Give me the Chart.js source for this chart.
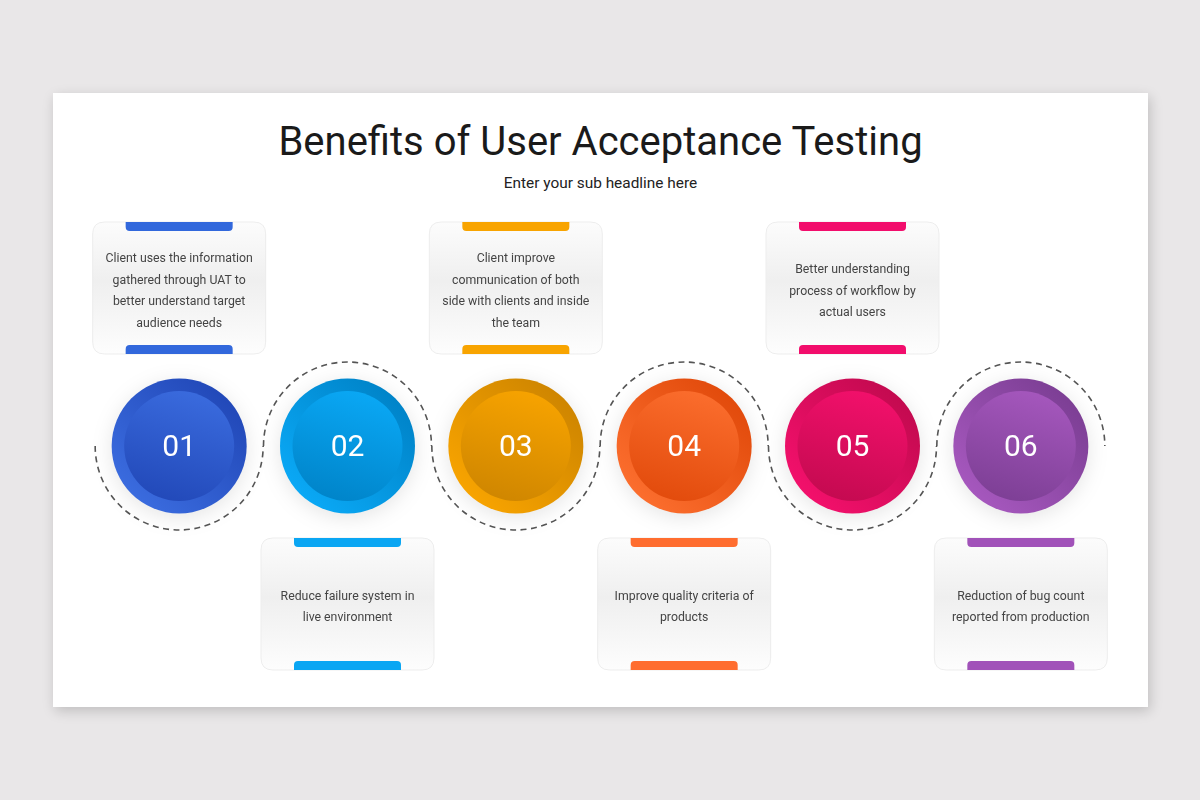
<!DOCTYPE html>
<html>
<head>
<meta charset="utf-8">
<title>Benefits of User Acceptance Testing</title>
<script src="https://cdn.jsdelivr.net/npm/chart.js@4.4.1/dist/chart.umd.min.js"></script>
<style>
  html, body { margin: 0; padding: 0; }
  body { width: 1200px; height: 800px; background: #e9e7e8; position: relative; overflow: hidden; font-family: Roboto, "Noto Sans", sans-serif; }
  .card { position: absolute; left: 53px; top: 93px; width: 1095px; height: 614px; background: #fff;
          box-shadow: 2px 4px 12px rgba(0,0,0,0.18); }
  .card h1 { position: absolute; left: 0; right: 0; top: 25px; margin: 0; text-align: center;
             font-weight: 400; font-size: 40px; line-height: 48px; color: #1a1a1a; }
  .card p { position: absolute; left: 0; right: 0; top: 80px; margin: 0; text-align: center;
            font-size: 15.4px; line-height: 20px; color: #222; }
  .chart-wrap { position: absolute; left: 0; top: 0; width: 1095px; height: 614px; }
</style>
</head>
<body>
<div class="card">
  <h1>Benefits of User Acceptance Testing</h1>
  <p>Enter your sub headline here</p>
  <div class="chart-wrap"><canvas id="steps"></canvas></div>
</div>
<script>
// step data
const stepLabels = ['01', '02', '03', '04', '05', '06'];
const stepPositions = [1, 2, 3, 4, 5, 6];
const boxSide = [1, -1, 1, -1, 1, -1]; // 1 = box above, -1 = box below
const descriptions = [
    ['Client uses the information', 'gathered through UAT to', 'better understand target', 'audience needs'],
    ['Reduce failure system in', 'live environment'],
    ['Client improve', 'communication of both', 'side with clients and inside', 'the team'],
    ['Improve quality criteria of', 'products'],
    ['Better understanding', 'process of workflow by', 'actual users'],
    ['Reduction of bug count', 'reported from production']
];
const lightColors = ['#3a6bde', '#0aa8f5', '#f7a300', '#fb6d2d', '#f2106b', '#a557bd'];
const darkColors = ['#2249b9', '#0084c9', '#cf8600', '#e24b0c', '#c40a50', '#7d3f95'];
const tabColors = ['#3268dc', '#0aa6f3', '#f8a400', '#ff6d2f', '#f20d6c', '#a152b9'];

function roundRect(ctx, x, y, w, h, r) {
    ctx.beginPath();
    ctx.moveTo(x + r[0], y);
    ctx.lineTo(x + w - r[1], y);
    ctx.quadraticCurveTo(x + w, y, x + w, y + r[1]);
    ctx.lineTo(x + w, y + h - r[2]);
    ctx.quadraticCurveTo(x + w, y + h, x + w - r[2], y + h);
    ctx.lineTo(x + r[3], y + h);
    ctx.quadraticCurveTo(x, y + h, x, y + h - r[3]);
    ctx.lineTo(x, y + r[0]);
    ctx.quadraticCurveTo(x, y, x + r[0], y);
    ctx.closePath();
}

const stepsPlugin = {
    id: 'steps',
    afterDatasetsDraw(chart) {
        const ctx = chart.ctx;
        const circles = chart.getDatasetMeta(0).data;
        const boxes = chart.getDatasetMeta(1).data;

        // text boxes
        boxes.forEach((pt, i) => {
            const w = 173, h = 132;
            const x = pt.x - w / 2, y = pt.y - h / 2;
            ctx.save();
            const g = ctx.createLinearGradient(0, y, 0, y + h);
            g.addColorStop(0, '#fcfcfc');
            g.addColorStop(0.45, '#efefef');
            g.addColorStop(1, '#fdfdfd');
            roundRect(ctx, x, y, w, h, [12, 12, 12, 12]);
            ctx.fillStyle = g;
            ctx.fill();
            ctx.strokeStyle = '#ededed';
            ctx.lineWidth = 1;
            ctx.stroke();

            ctx.fillStyle = tabColors[i];
            roundRect(ctx, pt.x - 53.5, y, 107, 9, [0, 0, 4, 4]);
            ctx.fill();
            roundRect(ctx, pt.x - 53.5, y + h - 9, 107, 9, [4, 4, 0, 0]);
            ctx.fill();

            const lines = descriptions[i];
            const lh = 21.6;
            ctx.fillStyle = '#444';
            ctx.font = '12.3px Roboto';
            ctx.textAlign = 'center';
            ctx.textBaseline = 'middle';
            const start = pt.y + 3.5 - (lines.length - 1) * lh / 2;
            lines.forEach((line, k) => ctx.fillText(line, pt.x, start + k * lh));
            ctx.restore();
        });

        // dashed half rings
        circles.forEach((pt, i) => {
            ctx.save();
            ctx.strokeStyle = '#555';
            ctx.lineWidth = 1.6;
            ctx.setLineDash([6, 4.5]);
            ctx.beginPath();
            if (boxSide[i] > 0) ctx.arc(pt.x, pt.y, 84, Math.PI, 0, true);
            else ctx.arc(pt.x, pt.y, 84, Math.PI, 2 * Math.PI, false);
            ctx.stroke();
            ctx.restore();
        });

        // numbered circles
        circles.forEach((pt, i) => {
            const R = 67.5, r = 55;
            ctx.save();
            ctx.shadowColor = 'rgba(0,0,0,0.10)';
            ctx.shadowBlur = 20;
            ctx.shadowOffsetY = 4;
            const go = ctx.createLinearGradient(pt.x + R * 0.7, pt.y - R * 0.7, pt.x - R * 0.7, pt.y + R * 0.7);
            go.addColorStop(0, darkColors[i]);
            go.addColorStop(1, lightColors[i]);
            ctx.fillStyle = go;
            ctx.beginPath();
            ctx.arc(pt.x, pt.y, R, 0, 2 * Math.PI);
            ctx.fill();
            ctx.restore();

            ctx.save();
            const gi = ctx.createLinearGradient(pt.x + r * 0.3, pt.y - r, pt.x - r * 0.3, pt.y + r);
            gi.addColorStop(0, lightColors[i]);
            gi.addColorStop(1, darkColors[i]);
            ctx.fillStyle = gi;
            ctx.beginPath();
            ctx.arc(pt.x, pt.y, r, 0, 2 * Math.PI);
            ctx.fill();

            ctx.fillStyle = '#fff';
            ctx.font = '30px Roboto';
            ctx.textAlign = 'center';
            ctx.textBaseline = 'middle';
            ctx.fillText(stepLabels[i], pt.x, pt.y + 2.5);
            ctx.restore();
        });
    }
};

new Chart(document.getElementById('steps'), {
    type: 'bubble',
    data: {
        labels: stepLabels,
        datasets: [
            {
                label: 'Steps',
                data: stepPositions.map(x => ({ x: x, y: 0, r: 0 })),
                backgroundColor: 'transparent',
                borderWidth: 0
            },
            {
                label: 'Boxes',
                data: stepPositions.map((x, i) => ({ x: x, y: boxSide[i], r: 0 })),
                backgroundColor: 'transparent',
                borderWidth: 0
            }
        ]
    },
    options: {
        responsive: true,
        maintainAspectRatio: false,
        animation: false,
        layout: { padding: { top: 195, bottom: 103, left: 42, right: 43 } },
        scales: {
            x: { type: 'linear', min: 0.5, max: 6.5, display: false },
            y: { type: 'linear', min: -1, max: 1, display: false }
        },
        plugins: {
            legend: { display: false },
            tooltip: { enabled: false }
        }
    },
    plugins: [stepsPlugin]
});
</script>
</body>
</html>
